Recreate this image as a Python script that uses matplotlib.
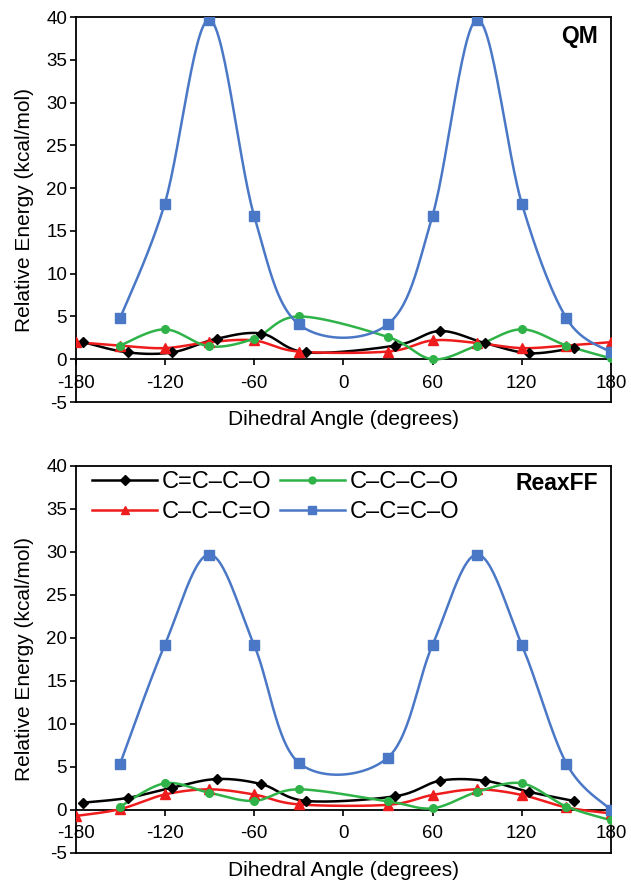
import numpy as np
import matplotlib
matplotlib.use("Agg")
import matplotlib.pyplot as plt

plt.rcParams["font.family"] = ["Liberation Sans", "DejaVu Sans"]
plt.rcParams["axes.unicode_minus"] = False

# QM data (dihedral angle, kcal/mol)
qm_ccco_x = [-175, -145, -115, -85, -55, -25, 35, 65, 95, 125, 155]
qm_ccco_y = [2.0, 0.8, 0.8, 2.4, 3.0, 0.8, 1.6, 3.3, 1.9, 0.7, 1.3]
qm_cccdo_x = [-180, -150, -120, -90, -60, -30, 30, 60, 90, 120, 150, 180]
qm_cccdo_y = [2.0, 1.6, 1.3, 2.0, 2.2, 0.9, 0.9, 2.2, 1.9, 1.3, 1.6, 2.0]
qm_cccco_x = [-150, -120, -90, -60, -30, 30, 60, 90, 120, 150, 180]
qm_cccco_y = [1.6, 3.5, 1.5, 2.4, 5.0, 2.6, 0.0, 1.6, 3.5, 1.6, 0.1]
qm_ccdco_x = [-150, -120, -90, -60, -30, 30, 60, 90, 120, 150, 180]
qm_ccdco_y = [4.8, 18.2, 39.7, 16.8, 4.1, 4.1, 16.8, 39.7, 18.2, 4.8, 0.8]

# ReaxFF data
rx_ccco_x = [-175, -145, -115, -85, -55, -25, 35, 65, 95, 125, 155]
rx_ccco_y = [0.85, 1.4, 2.6, 3.6, 3.0, 1.05, 1.6, 3.4, 3.4, 2.1, 1.05]
rx_cccdo_x = [-180, -150, -120, -90, -60, -30, 30, 60, 90, 120, 150, 180]
rx_cccdo_y = [-0.7, 0.1, 1.8, 2.4, 1.8, 0.65, 0.6, 1.75, 2.4, 1.75, 0.3, -0.4]
rx_cccco_x = [-150, -120, -90, -60, -30, 30, 60, 90, 120, 150, 180]
rx_cccco_y = [0.4, 3.1, 2.0, 1.05, 2.4, 1.0, 0.2, 2.1, 3.1, 0.4, -1.2]
rx_ccdco_x = [-150, -120, -90, -60, -30, 30, 60, 90, 120, 150, 180]
rx_ccdco_y = [5.4, 19.2, 29.7, 19.2, 5.5, 6.1, 19.2, 29.7, 19.2, 5.4, 0.0]

xticks = [-180, -120, -60, 0, 60, 120, 180]
yticks = [-5, 0, 5, 10, 15, 20, 25, 30, 35, 40]

names = ["C=C\u2013C\u2013O", "C\u2013C\u2013C=O", "C\u2013C\u2013C\u2013O", "C\u2013C=C\u2013O"]
colors = ["#000000", "#ee1c1c", "#2fb348", "#4a78c6"]
markers = ["D", "^", "o", "s"]
msizes = [5.5, 6.5, 5.5, 6.5]


def smooth(x, y, n=30):
    # Excel-like smoothed line: Catmull-Rom bezier segments
    x = np.asarray(x, float)
    y = np.asarray(y, float)
    pts = np.column_stack([x, y])
    out = []
    t = np.linspace(0, 1, n)[:, None]
    for i in range(len(pts) - 1):
        p0 = pts[max(i - 1, 0)]
        p1 = pts[i]
        p2 = pts[i + 1]
        p3 = pts[min(i + 2, len(pts) - 1)]
        c1 = p1 + (p2 - p0) / 6
        c2 = p2 - (p3 - p1) / 6
        seg = ((1 - t) ** 3) * p1 + 3 * ((1 - t) ** 2) * t * c1 + 3 * (1 - t) * t ** 2 * c2 + t ** 3 * p2
        out.append(seg if i == 0 else seg[1:])
    out = np.vstack(out)
    return out[:, 0], out[:, 1]


def panel(ax, series, title, title_y, legend=False):
    for (x, y), name, c, m, ms in zip(series, names, colors, markers, msizes):
        sx, sy = smooth(x, y)
        ax.plot(sx, sy, color=c, lw=1.8, zorder=3)
        ax.plot(x, y, linestyle="none", marker=m, color=c, ms=ms, zorder=4)
        ax.plot([], [], color=c, lw=1.8, marker=m, ms=ms - 0.5, label=name)
    ax.set_xlim(-180, 180)
    ax.set_ylim(-5, 40)
    ax.set_yticks(yticks)
    ax.set_xticks([])
    ax.tick_params(axis="y", direction="out", length=4, width=1.2, labelsize=13.5, pad=2)
    for s in ax.spines.values():
        s.set_linewidth(1.3)
    sec = ax.secondary_xaxis(5 / 45)
    sec.set_xticks(xticks)
    sec.set_xticklabels([str(v) for v in xticks])
    sec.tick_params(direction="out", length=4, width=1.2, labelsize=13.5, pad=7)
    sec.spines["bottom"].set_linewidth(1.3)
    ax.set_xlabel("Dihedral Angle (degrees)", fontsize=15, labelpad=6)
    ax.set_ylabel("Relative Energy (kcal/mol)", fontsize=15, labelpad=9)
    ax.text(0.975, title_y, title, transform=ax.transAxes, ha="right", va="top",
            fontsize=16.5, fontweight="bold")
    if legend:
        h, l = ax.get_legend_handles_labels()
        ax.legend(h, l, ncol=2, loc="upper left", bbox_to_anchor=(0.0, 1.03),
                  frameon=False, fontsize=17, handlelength=2.75, handletextpad=0.2,
                  columnspacing=0.35, labelspacing=0.35, borderaxespad=0.3)


fig = plt.figure(figsize=(6.31, 8.82), dpi=100)
ax1 = fig.add_axes([0.1197, 0.5442, 0.8487, 0.4365])
ax2 = fig.add_axes([0.1197, 0.0329, 0.8487, 0.4388])

panel(ax1, [(qm_ccco_x, qm_ccco_y), (qm_cccdo_x, qm_cccdo_y),
            (qm_cccco_x, qm_cccco_y), (qm_ccdco_x, qm_ccdco_y)], "QM", 0.98)
panel(ax2, [(rx_ccco_x, rx_ccco_y), (rx_cccdo_x, rx_cccdo_y),
            (rx_cccco_x, rx_cccco_y), (rx_ccdco_x, rx_ccdco_y)], "ReaxFF", 0.985, legend=True)

fig.savefig("out.png", dpi=100)
